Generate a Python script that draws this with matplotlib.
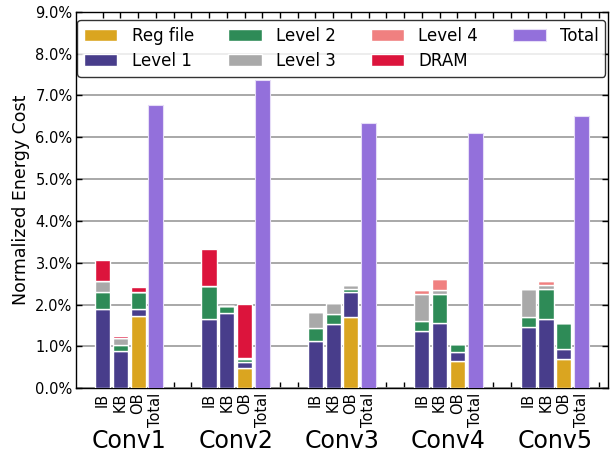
import matplotlib
matplotlib.use("Agg")
import matplotlib.pyplot as plt
import numpy as np
from matplotlib.ticker import FormatStrFormatter
from matplotlib.transforms import blended_transform_factory

layers = ["Conv1", "Conv2", "Conv3", "Conv4", "Conv5"]
buffers = ["IB", "KB", "OB"]

# Energy per buffer (percent), one row per layer: [IB, KB, OB]
reg_file = [[0.00, 0.00, 1.73],
            [0.00, 0.00, 0.48],
            [0.00, 0.00, 1.71],
            [0.00, 0.00, 0.66],
            [0.00, 0.00, 0.70]]
level1 = [[1.90, 0.90, 0.17],
          [1.66, 1.80, 0.14],
          [1.12, 1.54, 0.59],
          [1.38, 1.55, 0.20],
          [1.46, 1.66, 0.23]]
level2 = [[0.40, 0.14, 0.40],
          [0.79, 0.17, 0.08],
          [0.33, 0.24, 0.07],
          [0.23, 0.70, 0.20],
          [0.24, 0.72, 0.62]]
level3 = [[0.27, 0.16, 0.00],
          [0.00, 0.00, 0.02],
          [0.37, 0.26, 0.09],
          [0.65, 0.09, 0.00],
          [0.68, 0.09, 0.00]]
level4 = [[0.00, 0.00, 0.00],
          [0.00, 0.00, 0.00],
          [0.00, 0.00, 0.00],
          [0.10, 0.27, 0.00],
          [0.00, 0.09, 0.00]]
dram = [[0.49, 0.06, 0.12],
        [0.88, 0.00, 1.30],
        [0.00, 0.00, 0.00],
        [0.00, 0.00, 0.00],
        [0.00, 0.00, 0.00]]
totals = [6.78, 7.37, 6.35, 6.09, 6.51]

components = [
    ("Reg file", reg_file, "#DAA520"),
    ("Level 1", level1, "#483D8B"),
    ("Level 2", level2, "#2E8B57"),
    ("Level 3", level3, "#A9A9A9"),
    ("Level 4", level4, "#F08080"),
    ("DRAM", dram, "#DC143C"),
]
total_color = "#9370DB"

fig = plt.figure(figsize=(6.13, 4.53), dpi=100)
ax = fig.add_axes([0.124, 0.1428, 0.868, 0.8314])

group_stride = 6
width = 0.85

bar_x = np.array([[g * group_stride + i for i in range(len(buffers))]
                  for g in range(len(layers))])
total_x = np.array([g * group_stride + 3 for g in range(len(layers))])

bottom = np.zeros((len(layers), len(buffers)))
handles = {}
for name, vals, color in components:
    v = np.array(vals)
    h = ax.bar(bar_x.ravel(), v.ravel(), width, bottom=bottom.ravel(),
               color=color, edgecolor="white", linewidth=1.0, zorder=3,
               label=name)
    handles[name] = h
    bottom += v
ht = ax.bar(total_x, totals, width, color=total_color, edgecolor="#E6DDF7",
            linewidth=0.8, zorder=3, label="Total")
handles["Total"] = ht

ax.set_ylim(0, 9)
ax.set_yticks(np.arange(0, 9.01, 1.0))
ax.yaxis.set_major_formatter(FormatStrFormatter("%.1f%%"))
ax.set_xlim(-1.5, 28.5)

n_slots = 29
ticks = np.arange(n_slots)
labels = [""] * n_slots
for g in range(len(layers)):
    for i, b in enumerate(buffers + ["Total"]):
        labels[g * group_stride + i] = b
ax.set_xticks(ticks)
ax.set_xticklabels(labels, rotation=90, fontsize=10.5)
ax.tick_params(axis="both", direction="in", top=True, right=True, length=4,
               width=1, color="black")
ax.tick_params(axis="y", labelsize=10.5, pad=2.5)
ax.tick_params(axis="x", pad=3)

ax.yaxis.grid(True, color="#999999", linewidth=1.2, zorder=0)
ax.set_axisbelow(True)
for s in ax.spines.values():
    s.set_linewidth(1.0)
    s.set_color("black")

ax.set_ylabel("Normalized Energy Cost", fontsize=12.5, labelpad=4)

trans = blended_transform_factory(ax.transData, ax.transAxes)
for g, name in enumerate(layers):
    cx = g * group_stride + 1.5
    ax.text(cx, -0.14, name, transform=trans, ha="center", va="center",
            fontsize=17)

order = ["Reg file", "Level 1", "Level 2", "Level 3", "Level 4", "DRAM", "Total"]
leg = ax.legend([handles[k] for k in order], order, ncol=4,
                loc="upper left", bbox_to_anchor=(0.0025, 0.978, 0.9925, 0.0),
                mode="expand", fontsize=12, frameon=True, fancybox=True,
                handlelength=2.0, handleheight=0.7, labelspacing=0.45,
                borderpad=0.4, handletextpad=0.85, borderaxespad=0.0)
leg.get_frame().set_edgecolor("black")
leg.get_frame().set_linewidth(1.0)
leg.set_zorder(5)

fig.savefig("out.png", dpi=100)
